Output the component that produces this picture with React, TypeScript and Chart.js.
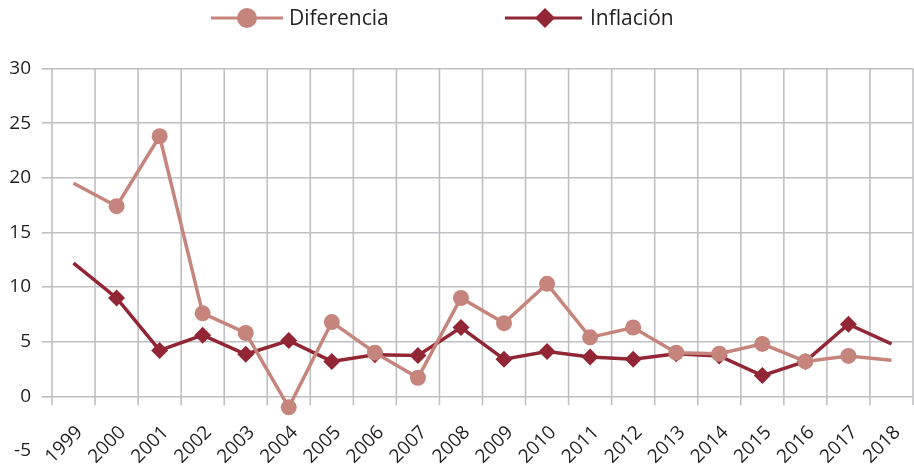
import { useEffect, useRef } from 'react';
import { Chart, registerables } from 'chart.js';

Chart.register(...registerables);

const years = ['1999', '2000', '2001', '2002', '2003', '2004', '2005', '2006', '2007', '2008', '2009', '2010', '2011', '2012', '2013', '2014', '2015', '2016', '2017', '2018'];
const diferencia = [19.5, 17.4, 23.8, 7.6, 5.8, -1.0, 6.8, 4.0, 1.7, 9.0, 6.7, 10.3, 5.4, 6.3, 4.0, 3.9, 4.8, 3.2, 3.7, 3.3];
const inflacion = [12.2, 9.0, 4.2, 5.6, 3.85, 5.1, 3.2, 3.8, 3.75, 6.3, 3.4, 4.1, 3.6, 3.4, 3.9, 3.7, 1.9, 3.2, 6.6, 4.8];
const yMin = -5;
const yMax = 30;
const yStep = 5;

const seriesNames = ['Diferencia', 'Inflación'];
const colorDif = '#c5847c';
const colorInf = '#922634';
const gridColor = '#c0c0c4';
const textColor = '#231f20';
const fontFamily = '"Open Sans", "DejaVu Sans", sans-serif';

const vGridPlugin = {
  id: 'vGrid',
  beforeDatasetsDraw(chart: any) {
    const { ctx, chartArea, scales } = chart;
    const x = scales.x;
    const y = scales.y;
    const step = x.getPixelForValue(1) - x.getPixelForValue(0);
    const bottom = y.getPixelForValue(0) + 9;
    ctx.save();
    ctx.strokeStyle = gridColor;
    ctx.lineWidth = 1.6;
    for (let i = 0; i <= years.length; i++) {
      const px = x.getPixelForValue(i) - step / 2;
      ctx.beginPath();
      ctx.moveTo(px, chartArea.top);
      ctx.lineTo(px, bottom);
      ctx.stroke();
    }
    ctx.restore();
  },
};

const legendPlugin = {
  id: 'customLegend',
  afterDraw(chart: any) {
    const { ctx } = chart;
    const cy = 18;
    ctx.save();
    ctx.font = `21px ${fontFamily}`;
    ctx.textBaseline = 'middle';
    ctx.fillStyle = textColor;
    // Diferencia
    ctx.strokeStyle = colorDif;
    ctx.lineWidth = 3;
    ctx.beginPath();
    ctx.moveTo(211, cy);
    ctx.lineTo(283, cy);
    ctx.stroke();
    ctx.fillStyle = colorDif;
    ctx.beginPath();
    ctx.arc(247, cy, 10, 0, Math.PI * 2);
    ctx.fill();
    ctx.fillStyle = textColor;
    ctx.fillText(seriesNames[0], 289, cy + 1);
    // Inflación
    ctx.strokeStyle = colorInf;
    ctx.beginPath();
    ctx.moveTo(505, cy);
    ctx.lineTo(582, cy);
    ctx.stroke();
    ctx.fillStyle = colorInf;
    ctx.beginPath();
    ctx.moveTo(545, cy - 10);
    ctx.lineTo(555, cy);
    ctx.lineTo(545, cy + 10);
    ctx.lineTo(535, cy);
    ctx.closePath();
    ctx.fill();
    ctx.fillStyle = textColor;
    ctx.fillText(seriesNames[1], 590, cy + 1);
    ctx.restore();
  },
};

export default function App() {
  const ref = useRef<HTMLCanvasElement | null>(null);

  useEffect(() => {
    document.body.style.margin = '0';
    const canvas = ref.current;
    if (!canvas) return;
    const last = years.length - 1;
    const markerRadius = (r: number) => (c: any) => (c.dataIndex === 0 || c.dataIndex === last ? 0 : r);
    const chart = new Chart(canvas, {
      type: 'line',
      data: {
        labels: years,
        datasets: [
          {
            label: seriesNames[0],
            data: diferencia,
            borderColor: colorDif,
            backgroundColor: colorDif,
            borderWidth: 3.5,
            pointStyle: 'circle',
            pointRadius: markerRadius(8),
            pointHoverRadius: markerRadius(8),
            pointBorderWidth: 0,
            tension: 0,
          },
          {
            label: seriesNames[1],
            data: inflacion,
            borderColor: colorInf,
            backgroundColor: colorInf,
            borderWidth: 3.5,
            pointStyle: 'rectRot',
            pointRadius: markerRadius(8.5),
            pointHoverRadius: markerRadius(8.5),
            pointBorderWidth: 0,
            tension: 0,
          },
        ],
      },
      options: {
        responsive: false,
        animation: false,
        devicePixelRatio: 1,
        layout: { padding: { top: 68.5, left: 0, right: 1, bottom: 14 } },
        plugins: {
          legend: { display: false },
          tooltip: { enabled: false },
        },
        scales: {
          x: {
            type: 'category',
            offset: true,
            position: { y: 0 } as any,
            grid: { display: false },
            border: { display: false },
            ticks: {
              autoSkip: false,
              maxRotation: 45,
              minRotation: 45,
              padding: 17,
              labelOffset: 6,
              color: textColor,
              font: { family: fontFamily, size: 19 },
            },
            afterFit(scale: any) {
              scale.paddingLeft = 0;
              scale.paddingRight = 0;
              scale.paddingTop = 0;
              scale.paddingBottom = 0;
            },
          },
          y: {
            min: yMin,
            max: yMax,
            border: { display: false },
            grid: {
              color: (c: any) => (c.tick && c.tick.value === yMin ? 'rgba(0,0,0,0)' : gridColor),
              lineWidth: 1.6,
              tickLength: 10,
              drawTicks: true,
            },
            ticks: {
              stepSize: yStep,
              padding: 11,
              color: textColor,
              font: { family: fontFamily, size: 19 },
            },
            afterFit(scale: any) {
              scale.width = 52;
              scale.paddingTop = 0;
              scale.paddingBottom = 0;
            },
          },
        },
      },
      plugins: [vGridPlugin, legendPlugin],
    });
    return () => chart.destroy();
  }, []);

  return (
    <div style={{ width: 914, height: 465 }}>
      <canvas ref={ref} width={914} height={465} style={{ display: 'block' }} />
    </div>
  );
}
